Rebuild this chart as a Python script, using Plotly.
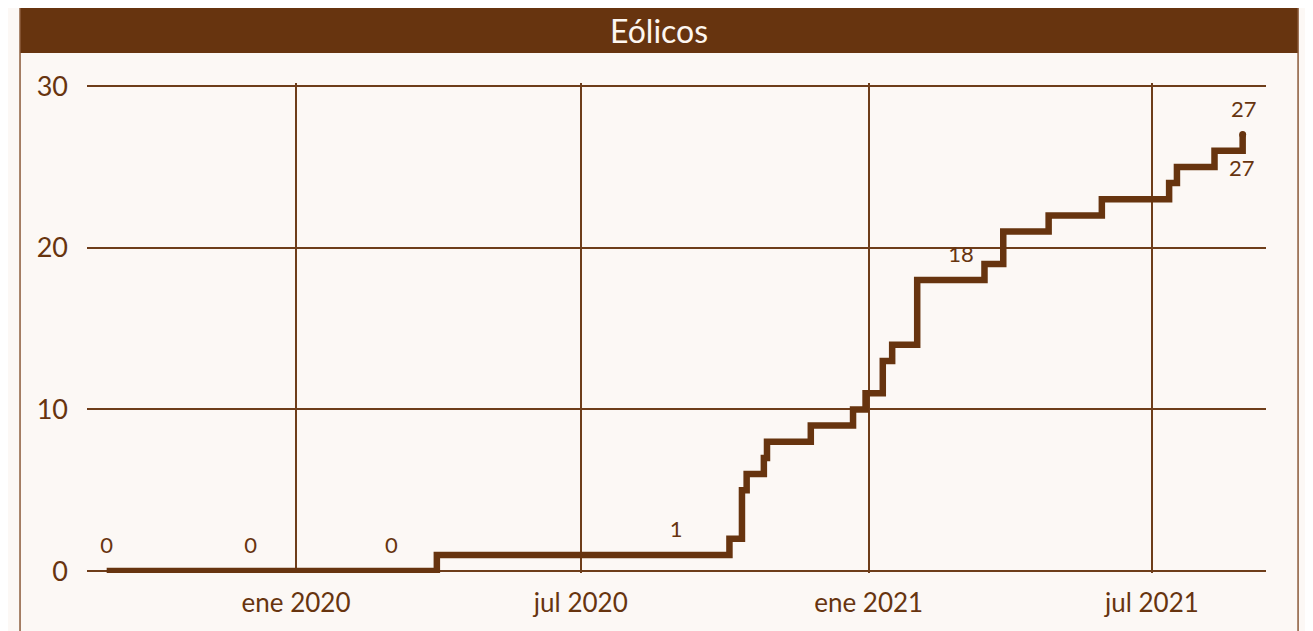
import plotly.graph_objects as go

# ---- data ----
step_dates = ['2019-09-02', '2020-03-31', '2020-10-04', '2020-10-12', '2020-10-15',
              '2020-10-26', '2020-10-28', '2020-11-25', '2020-12-22', '2020-12-30',
              '2021-01-10', '2021-01-16', '2021-02-01', '2021-03-16', '2021-03-28',
              '2021-04-26', '2021-05-30', '2021-07-12', '2021-07-17', '2021-08-10',
              '2021-08-28']
step_values = [0, 1, 2, 5, 6, 7, 8, 9, 10, 11, 13, 14, 18, 19, 21, 22, 23, 24, 25, 26, 27]

label_dates = ['2019-09-02', '2019-12-03', '2020-03-02', '2020-08-31', '2021-03-01', '2021-08-28 18:00']
label_values = [0, 0, 0, 1, 18, 27]
label_texts = ['0', '0', '0', '1', '18', '27']

end_label_date = ['2021-08-27 12:00']
end_label_value = [26]
end_label_text = ['27']

tick_dates = ['2020-01-01', '2020-07-01', '2021-01-01', '2021-07-01']
tick_texts = ['ene 2020', 'jul 2020', 'ene 2021', 'jul 2021']
y_ticks = [0, 10, 20, 30]

title_text = 'Eólicos'

BROWN = '#67340F'
GRID = '#6E3D1A'
BG = '#FCF8F5'
FONT = 'Lato'

fig = go.Figure()
fig.add_trace(go.Scatter(
    x=step_dates, y=step_values, mode='lines',
    line=dict(color=BROWN, width=6.5, shape='hv'),
    hoverinfo='skip', showlegend=False))

# rounded end cap of the line
fig.add_trace(go.Scatter(
    x=step_dates[-1:], y=step_values[-1:], mode='markers',
    marker=dict(size=7, color=BROWN),
    hoverinfo='skip', showlegend=False, cliponaxis=False))

fig.add_trace(go.Scatter(
    x=label_dates, y=label_values, mode='markers+text',
    text=label_texts, textposition='top center',
    marker=dict(size=18, opacity=0),
    textfont=dict(family=FONT, size=22, color=BROWN),
    hoverinfo='skip', showlegend=False, cliponaxis=False))

fig.add_trace(go.Scatter(
    x=end_label_date, y=end_label_value, mode='markers+text',
    text=end_label_text, textposition='bottom center',
    marker=dict(size=12, opacity=0),
    textfont=dict(family=FONT, size=22, color=BROWN),
    hoverinfo='skip', showlegend=False, cliponaxis=False))

# frame and title bar
x0p, x1p = -0.0568, 1.0272
fig.add_shape(type='rect', xref='paper', yref='paper',
              x0=x0p, x1=x1p, y0=1.061, y1=1.159,
              fillcolor=BROWN, line=dict(width=0), layer='below')
fig.add_shape(type='rect', xref='paper', yref='paper',
              x0=x0p, x1=x1p, y0=-0.2, y1=1.159,
              fillcolor='rgba(0,0,0,0)', line=dict(color='#8A5A3A', width=1.5))
fig.add_annotation(xref='paper', yref='paper', x=(x0p + x1p) / 2, y=1.108,
                   text=title_text, showarrow=False,
                   font=dict(family=FONT, size=32, color='#FDF6F0'),
                   xanchor='center', yanchor='middle')

fig.update_layout(
    width=1305, height=623,
    margin=dict(l=79, r=47, t=75, b=58),
    paper_bgcolor=BG, plot_bgcolor=BG,
    font=dict(family=FONT, color=BROWN),
    xaxis=dict(
        type='date',
        range=['2019-08-20 10:00', '2021-09-11 22:00'],
        tickvals=tick_dates, ticktext=tick_texts,
        showgrid=True, gridcolor=GRID, gridwidth=1.5,
        zeroline=False, showline=False, ticks='',
        tickfont=dict(family=FONT, size=26, color=BROWN),
        ticklabelstandoff=12,
    ),
    yaxis=dict(
        range=[-0.12, 30.19],
        tickvals=y_ticks,
        showgrid=True, gridcolor=GRID, gridwidth=2,
        zeroline=False, showline=False, ticks='',
        tickfont=dict(family=FONT, size=27, color=BROWN),
        ticklabelstandoff=18,
    ),
)

fig.write_html('out.html')
